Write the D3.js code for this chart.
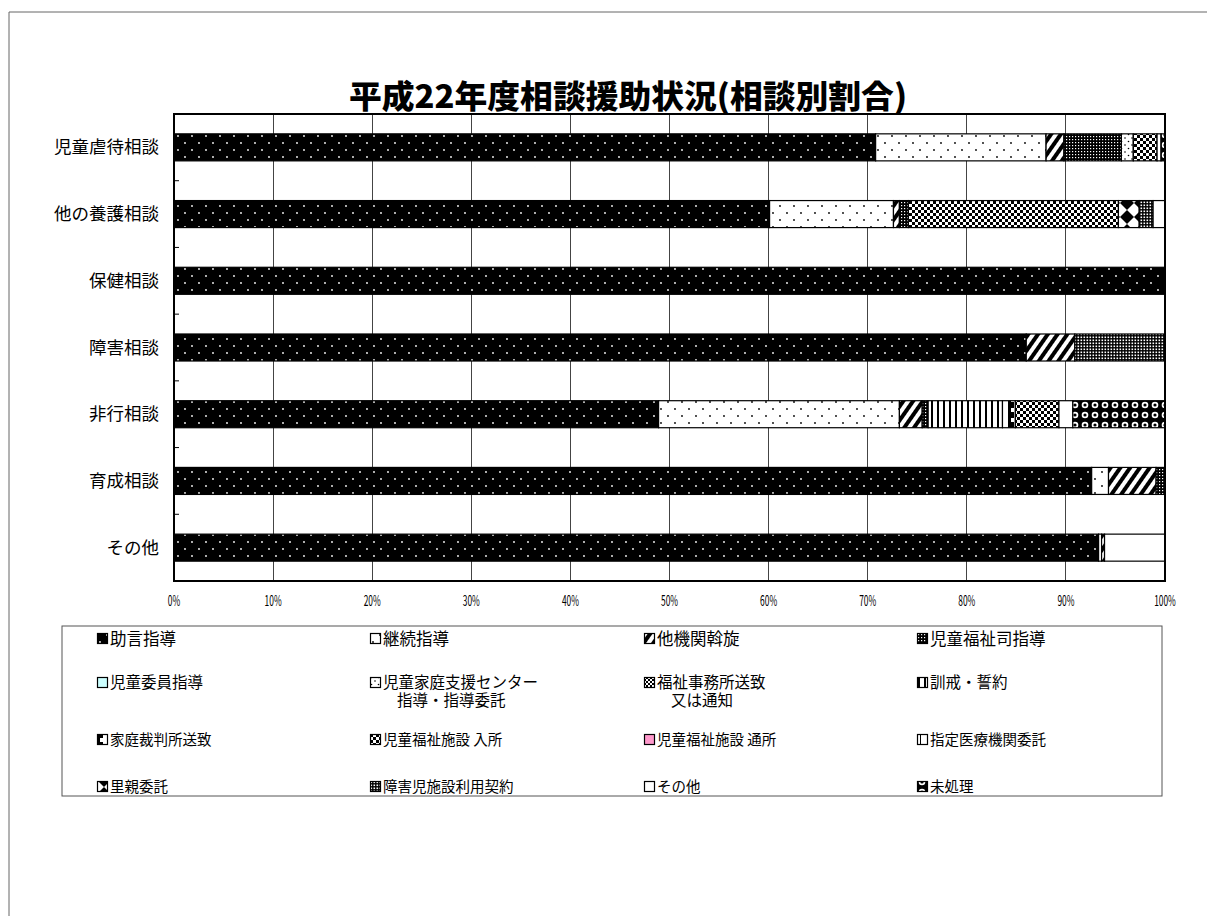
<!DOCTYPE html>
<html>
<head>
<meta charset="utf-8">
<script src="https://cdn.jsdelivr.net/npm/d3@7"></script>
<style>
  body { margin: 0; background: #fff; }
  svg text { font-family: "Noto Sans CJK JP", "Noto Sans", sans-serif; }
</style>
</head>
<body>
<div id="chart"></div>
<script>
// categories (top to bottom)
const categories = ['児童虐待相談', '他の養護相談', '保健相談', '障害相談', '非行相談', '育成相談', 'その他'];

// series names, same order as the legend
const seriesNames = [
	'助言指導', '継続指導', '他機関斡旋', '児童福祉司指導',
	'児童委員指導', '児童家庭支援センター\n指導・指導委託', '福祉事務所送致\n又は通知', '訓戒・誓約',
	'家庭裁判所送致', '児童福祉施設 入所', '児童福祉施設 通所', '指定医療機関委託',
	'里親委託', '障害児施設利用契約', 'その他', '未処理'
];

// percentages per category
const jogen      = [70.8, 60.1, 100, 86.0, 48.9, 92.6, 93.3];
const keizoku    = [17.2, 12.5, 0, 0, 24.3, 1.7, 0.3];
const takikan    = [1.8, 0.6, 0, 4.9, 2.3, 4.8, 0.3];
const fukushishi = [5.8, 0.9, 0, 0, 0.6, 0.9, 0];
const iin        = [0, 0, 0, 0, 0, 0, 0];
const center     = [1.2, 0, 0, 0, 0, 0, 0];
const jimusho    = [0, 0, 0, 0, 0, 0, 0];
const kunkai     = [0, 0, 0, 0, 7.5, 0, 0];
const katei      = [0, 0, 0, 0, 1.3, 0, 0];
const nyusho     = [2.4, 21.2, 0, 0, 4.4, 0, 0];
const tsusho     = [0, 0, 0, 0, 0, 0, 0];
const iryo       = [0, 0, 0, 0, 0, 0, 0];
const satooya    = [0, 2.1, 0, 0, 0, 0, 0];
const shogaiji   = [0, 1.4, 0, 9.1, 0, 0, 0];
const sonota     = [0.4, 1.2, 0, 0, 1.4, 0, 6.1];
const misyori    = [0.4, 0, 0, 0, 9.3, 0, 0];

const xTicks = [0, 10, 20, 30, 40, 50, 60, 70, 80, 90, 100];

const seriesValues = [jogen, keizoku, takikan, fukushishi, iin, center, jimusho, kunkai,
	katei, nyusho, tsusho, iryo, satooya, shogaiji, sonota, misyori];

const W = 1207, H = 916;
const PLOT = { LEFT: 174, RIGHT: 1165, TOP: 114, BOTTOM: 581 };

var svg = d3.select('#chart').append('svg')
	.attr('width', W)
	.attr('height', H);

// ---- patterns ----
var defs = svg.append('defs');

function pat (id, w, h, bg, draw, transform) {
	var p = defs.append('pattern')
		.attr('id', id)
		.attr('patternUnits', 'userSpaceOnUse')
		.attr('width', w)
		.attr('height', h);
	if (transform) p.attr('patternTransform', transform);
	p.append('rect').attr('width', w).attr('height', h).attr('fill', bg);
	if (draw) draw(p);
	return 'url(#' + id + ')';
}

var fills = [];
// 助言指導: black with sparse white dots
fills[0] = pat('p0', 14, 14, '#000', function (p) {
	p.append('circle').attr('cx', 3).attr('cy', 3).attr('r', 0.9).attr('fill', '#fff');
	p.append('circle').attr('cx', 10).attr('cy', 10).attr('r', 0.9).attr('fill', '#fff');
});
// 継続指導: white with sparse black dots
fills[1] = pat('p1', 14, 14, '#fff', function (p) {
	p.append('circle').attr('cx', 3).attr('cy', 3).attr('r', 0.9).attr('fill', '#000');
	p.append('circle').attr('cx', 10).attr('cy', 10).attr('r', 0.9).attr('fill', '#000');
});
// 他機関斡旋: wide diagonal stripes
fills[2] = pat('p2', 8, 8, '#fff', function (p) {
	p.append('rect').attr('width', 4).attr('height', 8).attr('fill', '#000');
}, 'rotate(35)');
// 児童福祉司指導: dense white dots on black
fills[3] = pat('p3', 3, 3, '#000', function (p) {
	p.append('rect').attr('x', 1).attr('y', 1).attr('width', 1.2).attr('height', 1.2).attr('fill', '#fff');
});
// 児童委員指導: light cyan
fills[4] = '#ccffff';
// 児童家庭支援センター: white, scattered dots
fills[5] = pat('p5', 7, 7, '#fff', function (p) {
	p.append('circle').attr('cx', 1.5).attr('cy', 1.5).attr('r', 0.8).attr('fill', '#000');
	p.append('circle').attr('cx', 5).attr('cy', 5).attr('r', 0.8).attr('fill', '#000');
});
// 福祉事務所送致: small checker
fills[6] = pat('p6', 4, 4, '#fff', function (p) {
	p.append('rect').attr('width', 2).attr('height', 2).attr('fill', '#000');
	p.append('rect').attr('x', 2).attr('y', 2).attr('width', 2).attr('height', 2).attr('fill', '#000');
});
// 訓戒・誓約: vertical stripes
fills[7] = pat('p7', 6, 6, '#fff', function (p) {
	p.append('rect').attr('x', 1).attr('width', 2).attr('height', 6).attr('fill', '#000');
});
// 家庭裁判所送致: blocky bars
fills[8] = pat('p8', 12, 10, '#fff', function (p) {
	p.append('rect').attr('x', 0).attr('width', 3).attr('height', 10).attr('fill', '#000');
	p.append('rect').attr('x', 3).attr('y', 2).attr('width', 3).attr('height', 6).attr('fill', '#000');
});
// 児童福祉施設 入所: checker
fills[9] = pat('p9', 6, 6, '#fff', function (p) {
	p.append('rect').attr('width', 3).attr('height', 3).attr('fill', '#000');
	p.append('rect').attr('x', 3).attr('y', 3).attr('width', 3).attr('height', 3).attr('fill', '#000');
});
// 児童福祉施設 通所: pink
fills[10] = '#ff99cc';
// 指定医療機関委託: white with a thin line
fills[11] = pat('p11', 8, 8, '#fff', function (p) {
	p.append('rect').attr('x', 3).attr('width', 1).attr('height', 8).attr('fill', '#000');
});
// 里親委託: big diamonds
fills[12] = pat('p12', 14, 14, '#fff', function (p) {
	p.append('polygon').attr('points', '7,0 14,7 7,14 0,7').attr('fill', '#000');
});
// 障害児施設利用契約: dense dots (slightly lighter)
fills[13] = pat('p13', 3, 3, '#000', function (p) {
	p.append('rect').attr('x', 0.5).attr('y', 0.5).attr('width', 1.6).attr('height', 1.6).attr('fill', '#fff');
});
// その他: white
fills[14] = '#fff';
// 未処理: ring pattern
fills[15] = pat('p15', 10, 10, '#000', function (p) {
	p.append('circle').attr('cx', 5).attr('cy', 5).attr('r', 3.3).attr('fill', '#fff');
	p.append('circle').attr('cx', 5).attr('cy', 5).attr('r', 1.6).attr('fill', '#000');
});

// ---- outer frame ----
svg.append('path')
	.attr('d', 'M9,' + H + 'V12H' + W)
	.attr('fill', 'none')
	.attr('stroke', '#666')
	.attr('stroke-width', 1);

// ---- title ----
svg.append('text')
	.attr('x', 628)
	.attr('y', 108)
	.attr('text-anchor', 'middle')
	.attr('font-size', 32)
	.attr('font-weight', 900)
	.attr('textLength', 558)
	.attr('lengthAdjust', 'spacingAndGlyphs')
	.text('平成22年度相談援助状況(相談別割合)');

// ---- scales ----
var x = d3.scaleLinear().domain([0, 100]).range([PLOT.LEFT, PLOT.RIGHT]);
var y = d3.scaleBand().domain(categories).range([PLOT.TOP, PLOT.BOTTOM])
	.paddingInner(0.595).paddingOuter(0.2975);

var table = categories.map(function (c, i) {
	var row = { cat: c };
	seriesNames.forEach(function (s, k) { row[k] = seriesValues[k][i]; });
	return row;
});
var stack = d3.stack().keys(d3.range(seriesNames.length));
var layers = stack(table);

// gridlines
svg.append('g')
	.selectAll('line')
	.data(xTicks)
	.enter().append('line')
	.attr('x1', function (d) { return x(d); })
	.attr('x2', function (d) { return x(d); })
	.attr('y1', PLOT.TOP)
	.attr('y2', PLOT.BOTTOM)
	.attr('stroke', '#444')
	.attr('stroke-width', 1)
	.attr('shape-rendering', 'crispEdges');

// bars
var groups = svg.append('g').selectAll('g')
	.data(layers)
	.enter().append('g')
	.attr('fill', function (d, i) { return fills[i]; });

groups.selectAll('rect')
	.data(function (d) { return d.filter(function (s) { return s[1] - s[0] > 0; }); })
	.enter().append('rect')
	.attr('x', function (d) { return x(d[0]); })
	.attr('width', function (d) { return x(d[1]) - x(d[0]); })
	.attr('y', function (d) { return y(d.data.cat); })
	.attr('height', y.bandwidth())
	.attr('stroke', '#000')
	.attr('stroke-width', 1.2);

// plot frame
svg.append('rect')
	.attr('x', PLOT.LEFT)
	.attr('y', PLOT.TOP)
	.attr('width', PLOT.RIGHT - PLOT.LEFT)
	.attr('height', PLOT.BOTTOM - PLOT.TOP)
	.attr('fill', 'none')
	.attr('stroke', '#000')
	.attr('stroke-width', 2);

// category separators on the left axis
var step = y.step();
svg.append('g')
	.selectAll('line')
	.data(categories.slice(1))
	.enter().append('line')
	.attr('x1', PLOT.LEFT)
	.attr('x2', PLOT.LEFT + 5)
	.attr('y1', function (d) { return y(d) - (step - y.bandwidth()) / 2; })
	.attr('y2', function (d) { return y(d) - (step - y.bandwidth()) / 2; })
	.attr('stroke', '#000')
	.attr('stroke-width', 1);

// category labels
svg.append('g')
	.selectAll('text')
	.data(categories)
	.enter().append('text')
	.attr('x', 159)
	.attr('y', function (d) { return y(d) + y.bandwidth() / 2; })
	.attr('dy', '0.35em')
	.attr('text-anchor', 'end')
	.attr('font-size', 17.5)
	.text(function (d) { return d; });

// x tick labels (narrow, tall like the original)
svg.append('g')
	.selectAll('text')
	.data(xTicks)
	.enter().append('text')
	.attr('transform', function (d) { return 'translate(' + x(d) + ',606) scale(0.7,1.25)'; })
	.attr('text-anchor', 'middle')
	.attr('font-size', 12)
	.attr('font-family', 'Liberation Sans, sans-serif')
	.text(function (d) { return d + '%'; });

// ---- legend ----
svg.append('rect')
	.attr('x', 62)
	.attr('y', 626)
	.attr('width', 1100)
	.attr('height', 170)
	.attr('fill', '#fff')
	.attr('stroke', '#555')
	.attr('stroke-width', 1);

const legendCols = [97, 370, 644, 917];
const legendRows = [639, 683, 740, 787];
const legendFont = [16.5, 15.5, 14.5, 14.5];

var items = svg.append('g')
	.selectAll('g')
	.data(seriesNames)
	.enter().append('g')
	.attr('transform', function (d, i) {
		return 'translate(' + legendCols[i % 4] + ',' + legendRows[Math.floor(i / 4)] + ')';
	});

items.append('rect')
	.attr('x', 0.5)
	.attr('y', -5.5)
	.attr('width', 10)
	.attr('height', 10)
	.attr('fill', function (d, i) { return fills[i]; })
	.attr('stroke', '#000')
	.attr('stroke-width', 1.2);

items.each(function (d, i) {
	var lines = d.split('\n');
	var t = d3.select(this).append('text')
		.attr('font-size', legendFont[Math.floor(i / 4)]);
	lines.forEach(function (ln, k) {
		t.append('tspan')
			.attr('x', k === 0 ? 13 : 27)
			.attr('y', k * 18)
			.attr('dy', '0.35em')
			.text(ln);
	});
});
</script>
</body>
</html>
